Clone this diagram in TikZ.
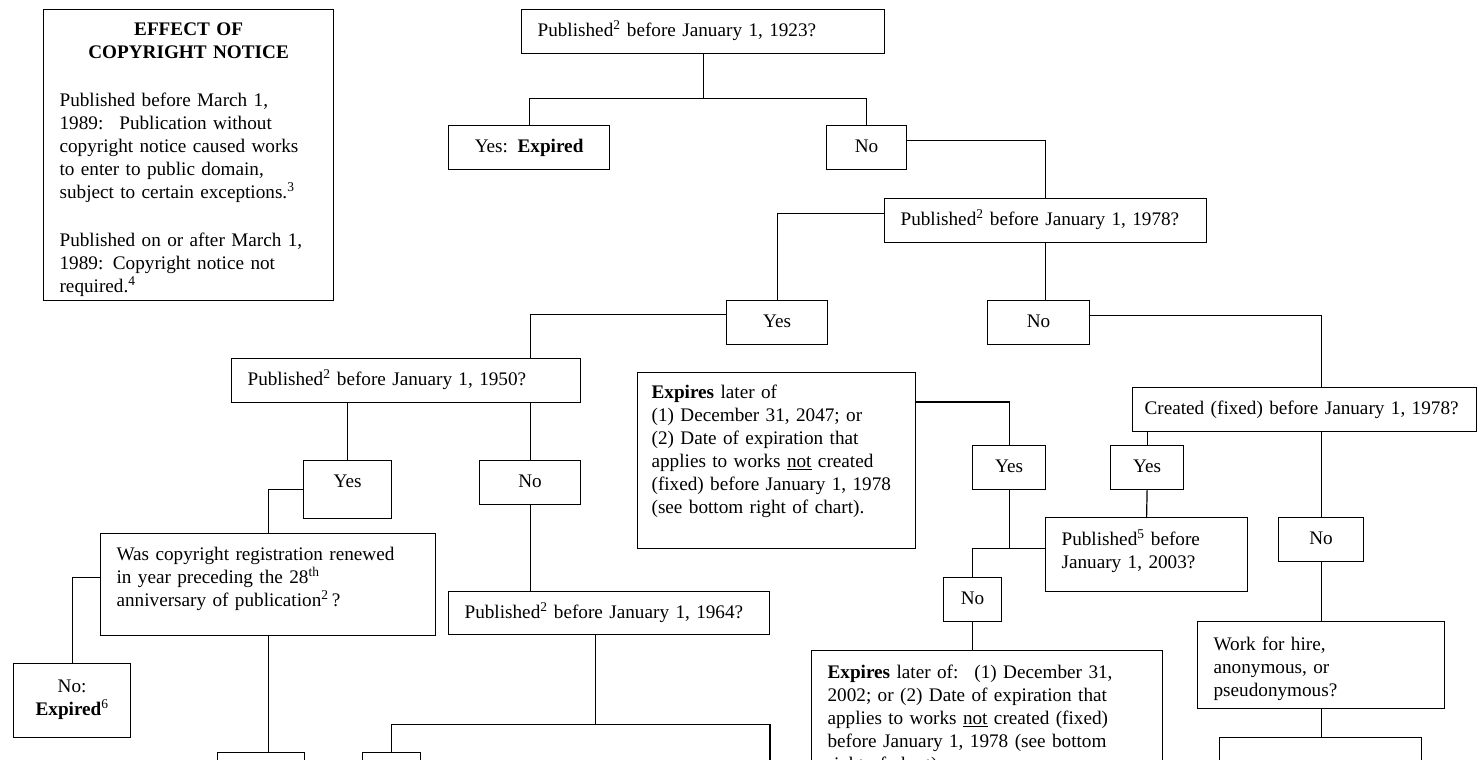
\documentclass[tikz,border=0pt]{standalone}
\usepackage{fontspec}
\setmainfont{Liberation Serif}
\usepackage{tikz}
\newcommand{\chartfont}{\fontsize{19.2}{23}\selectfont}
\begin{document}
\begin{tikzpicture}[x=1pt, y=-1pt, line width=1.2pt,
		box/.style={
			draw=black,
			rectangle,
			anchor=north west,
			inner xsep=16pt,
			inner ysep=0pt,
			align=left,
			font=\chartfont},
		ans/.style={box, align=center},
		dims/.style n args={3}{text width=#1, text height=#2, text depth=#3}]
		\path[use as bounding box, fill=white] (0,0) rectangle (1480,760);
		\clip (0,0) rectangle (1480,760);

		\node (notice) [box, dims={258pt}{26pt}{265pt}] at (43,9) {\makebox[\linewidth]{\textbf{EFFECT OF}}\\
			\makebox[\linewidth]{\textbf{COPYRIGHT NOTICE}}\\[25pt]
			Published before March 1,\\
			1989:~ Publication without\\
			copyright notice caused works\\
			to enter to public domain,\\
			subject to certain exceptions.\textsuperscript{3}\\[25pt]
			Published on or after March 1,\\
			1989: Copyright notice not\\
			required.\textsuperscript{4}};

		\node (q23) [box, dims={331pt}{27pt}{17pt}] at (521,9) {Published\textsuperscript{2} before January 1, 1923?};
		\node (yes23) [ans, dims={129pt}{27pt}{17pt}] at (448,125) {Yes: \textbf{Expired}};
		\node (no23) [ans, dims={48pt}{27pt}{17pt}] at (826,125) {No};
		\node (q78) [box, dims={290pt}{27pt}{17pt}] at (884,198) {Published\textsuperscript{2} before January 1, 1978?};
		\node (yes78) [ans, dims={69pt}{27pt}{17pt}] at (726,300) {Yes};
		\node (no78) [ans, dims={70pt}{27pt}{17pt}] at (987,300) {No};

		\node (q50) [box, dims={317pt}{27pt}{17pt}] at (231,358) {Published\textsuperscript{2} before January 1, 1950?};
		\node (yes50) [ans, dims={56pt}{27pt}{31pt}] at (303,460) {Yes};
		\node (no50) [ans, dims={69pt}{27pt}{17pt}] at (479,460) {No};
		\node (renew) [box, dims={303pt}{27pt}{75pt}] at (100,533) {Was copyright registration renewed\\
			in year preceding the 28\textsuperscript{th}\\
			anniversary of publication\textsuperscript{2}\,?};
		\node (noexp) [ans, dims={85pt}{29pt}{45pt}] at (13,663) {No:\\\textbf{Expired}\textsuperscript{6}};
		\node (q64) [box, dims={289pt}{27pt}{16pt}] at (448,591) {Published\textsuperscript{2} before January 1, 1964?};
		\node (yesren) [box, dims={55pt}{27pt}{33pt}] at (217,752) {};
		\node (yes64) [box, dims={26pt}{27pt}{33pt}] at (362,752) {};
		\coordinate (no64) at (770,775);

		\node (exp47) [box, inner xsep=14pt, dims={250pt}{26pt}{150pt}] at (637,372) {\textbf{Expires} later of\\
			(1) December 31, 2047; or\\
			(2) Date of expiration that\\
			applies to works \underline{not} created\\
			(fixed) before January 1, 1978\\
			(see bottom right of chart).};
		\node (yes47) [ans, dims={41pt}{27pt}{17pt}] at (972,445) {Yes};
		\node (q03) [box, dims={170pt}{28pt}{46pt}] at (1045,517) {Published\textsuperscript{5} before\\January 1, 2003?};
		\node (no03) [ans, dims={26pt}{27pt}{17pt}] at (943,577) {No};
		\node (exp02) [box, dims={319pt}{28pt}{132pt}] at (811,650) {\textbf{Expires} later of:~ (1) December 31,\\
			2002; or (2) Date of expiration that\\
			applies to works \underline{not} created (fixed)\\
			before January 1, 1978 (see bottom\\
			right of chart).};

		\node (created) [box, inner xsep=12pt, dims={320pt}{27pt}{17pt}] at (1132,387) {Created (fixed) before January 1, 1978?};
		\node (yescr) [ans, dims={41pt}{27pt}{17pt}] at (1110,445) {Yes};
		\node (nocr) [ans, dims={53pt}{27pt}{17pt}] at (1278,517) {No};
		\node (hire) [box, dims={215pt}{29pt}{58pt}] at (1197,621) {Work for hire,\\anonymous, or\\pseudonymous?};
		\node (hireans) [box, dims={170pt}{27pt}{33pt}] at (1219,737) {};

		\draw (q23.south) -- ++(0,44) coordinate (j23);
		\draw (yes23.north) |- (j23) -| (no23.north);
		\draw ([yshift=7pt]no23.east) -| (q78.north);
		\draw ([yshift=7pt]q78.west) -| (yes78.north);
		\draw (q78.south) -- (q78.south |- no78.north);
		\draw ([yshift=7pt]no78.east) -| (nocr.north |- created.north);

		\draw ([yshift=8pt]yes78.west) -| (no50.north |- q50.north);
		\draw (q50.south -| no50.north) -- (no50.north);
		\draw (no50.south) -- (no50.south |- q64.north);
		\draw (q50.south -| yes50.north) -- (yes50.north);
		\draw (yes50.west) -| (renew.north);
		\draw ([yshift=7pt]renew.west) -| (noexp.north);
		\draw (renew.south) -- (renew.south |- yesren.north);
		\draw ([xshift=-14pt]q64.south) -- ++(0,89) coordinate (j64);
		\draw (yes64.north) |- (j64) -| (no64);

		\draw ([yshift=-30pt]exp47.north east) -| (yes47.north);
		\draw (yes47.south) -- ([yshift=6pt]yes47.south |- q03.west);
		\draw ([yshift=6pt]q03.west) -| (no03.north);
		\draw (no03.south) -- (no03.south |- exp02.north);

		\draw (created.south -| yescr.north) -- (yescr.north);
		\draw (yescr.south) -- (q03.north);
		\draw (created.south -| nocr.north) -- (nocr.north);
		\draw (nocr.south) -- (nocr.south |- hire.north);
		\draw (nocr.south |- hire.south) -- (nocr.south |- hireans.north);

	\end{tikzpicture}
\end{document}
